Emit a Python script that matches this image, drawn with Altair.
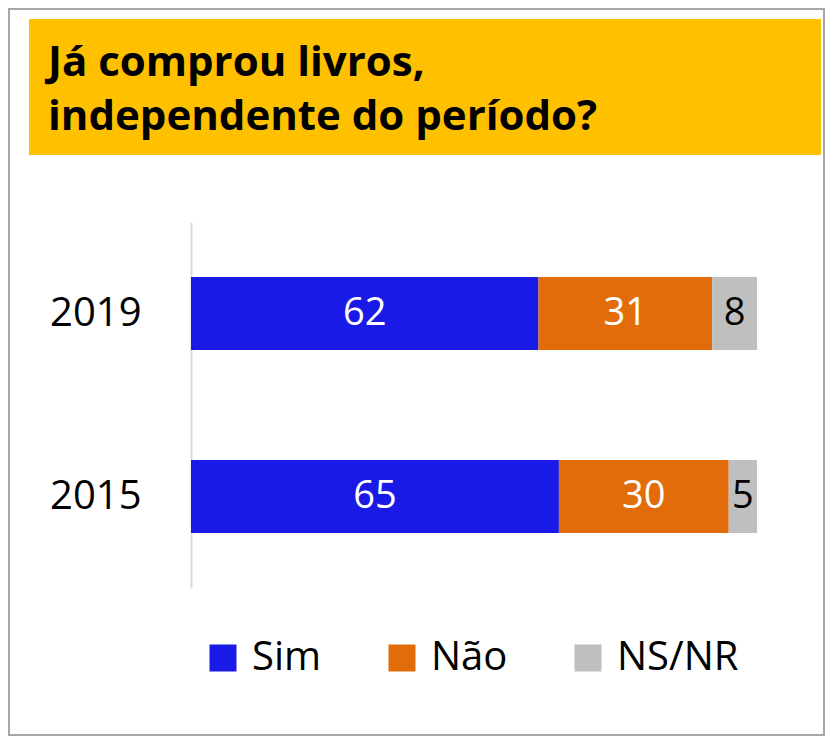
import altair as alt
import pandas as pd

# ---- data ----
years = ["2019", "2015"]
categories = ["Sim", "Não", "NS/NR"]
sim = [62, 65]
nao = [31, 30]
nsnr = [8, 5]
title_lines = ["Já comprou livros,", "independente do período?"]
colors = ["#1A1AE6", "#E36C0A", "#BFBFBF"]

rows = []
for i, y in enumerate(years):
    for order, (cat, vals) in enumerate(zip(categories, [sim, nao, nsnr])):
        rows.append({"year": y, "category": cat, "value": vals[i], "order": order})
df = pd.DataFrame(rows)

FONT = "Open Sans"
one = pd.DataFrame({"a": [0]})

border = alt.Chart(one).mark_rect(filled=False, stroke="#A6A6A6", strokeWidth=2).encode(
    x=alt.value(-182), x2=alt.value(633), y=alt.value(-213), y2=alt.value(513)
)
title_box = alt.Chart(one).mark_rect(fill="#FFC000").encode(
    x=alt.value(-162), x2=alt.value(630), y=alt.value(-203), y2=alt.value(-67)
)
t1 = alt.Chart(pd.DataFrame({"t": [title_lines[0]]})).mark_text(
    font=FONT, fontSize=42, fontWeight="bold", align="left", baseline="alphabetic", color="black"
).encode(x=alt.value(-143), y=alt.value(-146), text="t:N")
t2 = alt.Chart(pd.DataFrame({"t": [title_lines[1]]})).mark_text(
    font=FONT, fontSize=42, fontWeight="bold", align="left", baseline="alphabetic", color="black"
).encode(x=alt.value(-143), y=alt.value(-92), text="t:N")

base = alt.Chart(df).transform_joinaggregate(
    total="sum(value)", groupby=["year"]
).transform_window(
    cum="sum(value)", sort=[alt.SortField("order")], groupby=["year"], frame=[None, 0]
).transform_calculate(
    start="(datum.cum - datum.value) / datum.total",
    end="datum.cum / datum.total",
    mid="(datum.cum - datum.value / 2) / datum.total",
)

yenc = alt.Y(
    "year:N",
    sort=years,
    scale=alt.Scale(paddingInner=0.6, paddingOuter=0.3),
    axis=alt.Axis(
        title=None, ticks=False, grid=False, labelFont=FONT, labelFontSize=40,
        labelColor="black", domainColor="#D9D9D9", domainWidth=2, labelPadding=50,
    ),
)

bars = base.mark_bar().encode(
    x=alt.X("start:Q", scale=alt.Scale(domain=[0, 1]), axis=None),
    x2="end:Q",
    y=yenc,
    color=alt.Color(
        "category:N",
        sort=categories,
        scale=alt.Scale(domain=categories, range=colors),
        legend=alt.Legend(
            title=None, orient="none", legendX=12, legendY=416, direction="horizontal",
            symbolType="square", symbolSize=729, symbolStrokeWidth=0,
            labelFont=FONT, labelFontSize=40, labelColor="black", labelOffset=9,
            columnPadding=60,
        ),
    ),
)

labels = base.mark_text(font=FONT, fontSize=38, baseline="middle", align="center").encode(
    x=alt.X("mid:Q", scale=alt.Scale(domain=[0, 1]), axis=None),
    y=alt.Y("year:N", sort=years),
    text="value:Q",
    color=alt.condition(alt.datum.category == "NS/NR", alt.value("black"), alt.value("white")),
)

chart = alt.layer(border, title_box, t1, t2, bars, labels).properties(
    width=566, height=366,
    padding={"left": 183, "top": 214, "right": 68, "bottom": 148},
    autosize=alt.AutoSizeParams(type="none"),
    background="white",
).configure_view(strokeWidth=0)

chart.save("out.html", embed_options={"renderer": "svg", "actions": False})
